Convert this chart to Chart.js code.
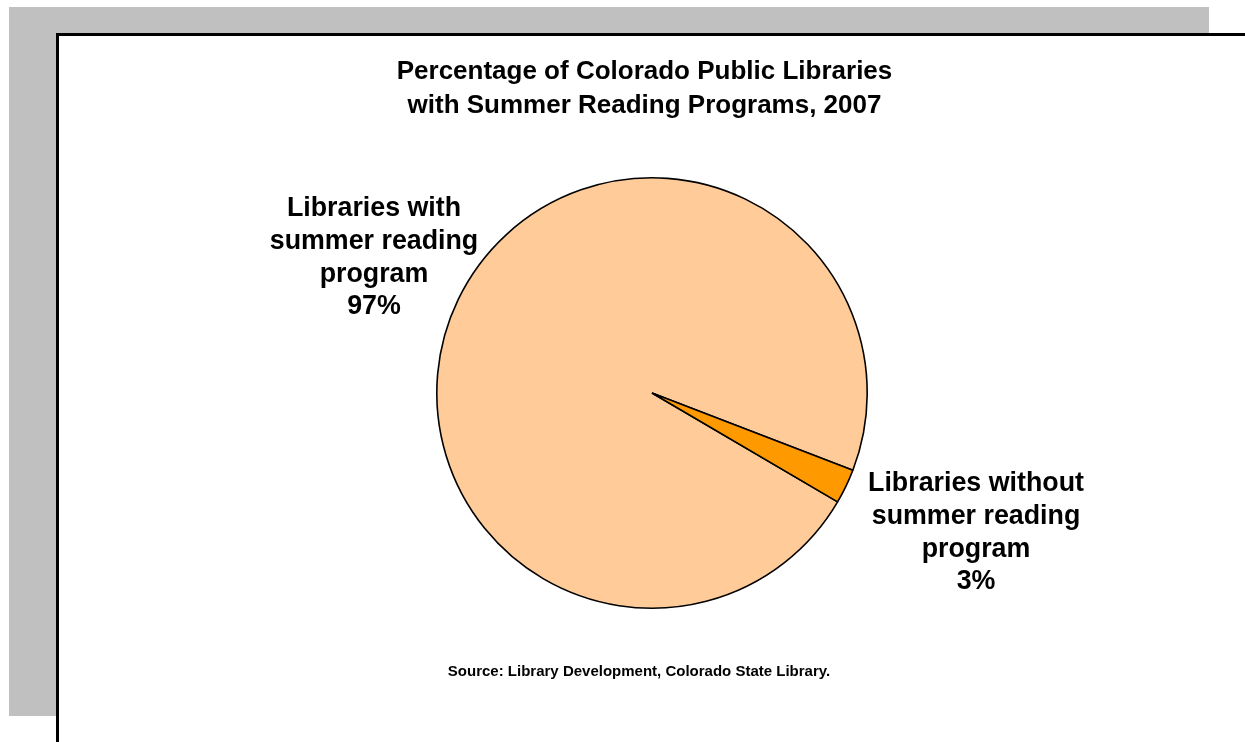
<!DOCTYPE html>
<html>
<head>
<meta charset="utf-8">
<script src="https://cdn.jsdelivr.net/npm/chart.js@4"></script>
<style>
    body { margin: 0; background: #fff; overflow: hidden; }
    .wrap { position: relative; width: 1245px; height: 742px; }
    .shade { position: absolute; left: 9px; top: 7px; width: 1200px; height: 709px; background: #c0c0c0; }
    .frame { position: absolute; left: 56px; top: 33px; width: 1186px; height: 760px;
             background: #fff; border-left: 3px solid #000; border-top: 3px solid #000;
             border-right: 1px solid #c8c8c8; }
    canvas { position: absolute; left: 0; top: 0; }
</style>
</head>
<body>
<div class="wrap">
    <div class="shade"></div>
    <div class="frame"></div>
    <canvas id="summer-pie" width="1245" height="742"></canvas>
</div>
<script>
    var categories = ['Libraries with summer reading program', 'Libraries without summer reading program'];
    var shares = [97.4, 2.6];
    var sliceColors = ['#ffcc99', '#ff9900'];
    var titleLines = ['Percentage of Colorado Public Libraries', 'with Summer Reading Programs, 2007'];
    var sourceNote = 'Source: Library Development, Colorado State Library.';

    var FONT = '"Liberation Sans", Arial, sans-serif';

    /** label text split like the original, with the rounded share as last line */
    var labelLines = [
        ['Libraries with', 'summer reading', 'program'],
        ['Libraries without', 'summer reading', 'program']
    ];
    var labelAnchors = [{ x: 374, y: 216 }, { x: 976, y: 491 }];

    var textPlugin = {
        id: 'textPlugin',
        afterDraw: function (chart) {
            var c = chart.ctx;
            c.save();
            c.fillStyle = '#000';
            c.textAlign = 'center';
            c.textBaseline = 'alphabetic';

            c.font = 'bold 26px ' + FONT;
            titleLines.forEach(function (line, i) {
                c.fillText(line, 644.5, 79 + i * 34);
            });

            c.font = 'bold 26.8px ' + FONT;
            labelLines.forEach(function (lines, k) {
                var all = lines.concat([Math.round(shares[k]) + '%']);
                all.forEach(function (line, i) {
                    c.fillText(line, labelAnchors[k].x, labelAnchors[k].y + i * 32.8);
                });
            });

            c.font = 'bold 15px ' + FONT;
            c.fillText(sourceNote, 639, 676);
            c.restore();
        }
    };

    var ctx = document.getElementById('summer-pie').getContext('2d');
    var pieChart = new Chart(ctx, {
        type: 'pie',
        data: {
            labels: categories,
            datasets: [{
                data: shares,
                backgroundColor: sliceColors,
                borderColor: '#000',
                borderWidth: 1.6
            }]
        },
        options: {
            responsive: false,
            animation: false,
            devicePixelRatio: 1,
            rotation: 120.4,
            layout: {
                padding: { left: 436, right: 377, top: 177, bottom: 133 }
            },
            plugins: {
                legend: { display: false },
                title: { display: false },
                tooltip: { enabled: false }
            }
        },
        plugins: [textPlugin]
    });
</script>
</body>
</html>
